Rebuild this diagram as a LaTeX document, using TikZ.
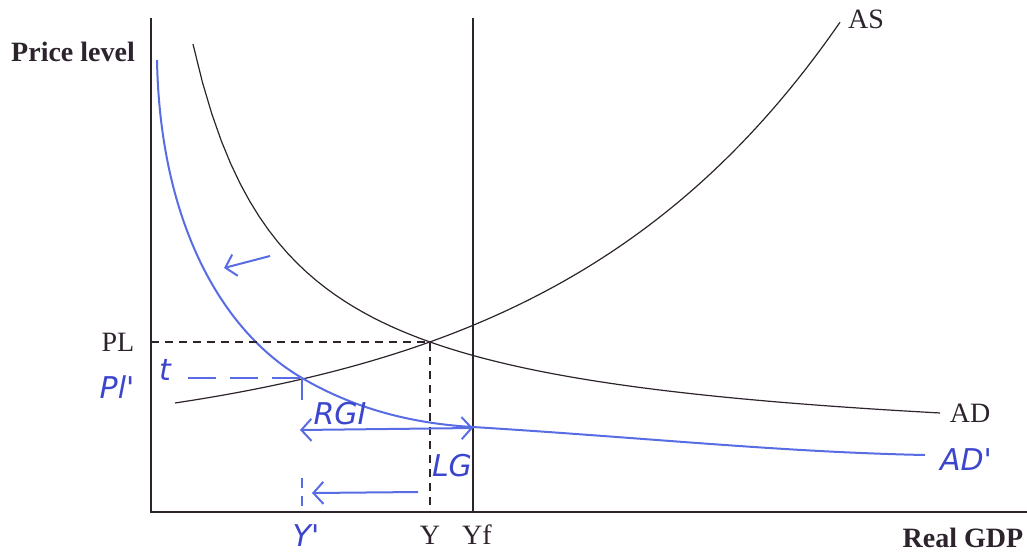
\documentclass[tikz,border=0pt]{standalone}
\usepackage{fontspec}
\setmainfont{Liberation Serif}
\newfontfamily\handfont{DejaVu Sans}
\usetikzlibrary{positioning,arrows.meta}
\definecolor{penblue}{RGB}{88,108,228}
\definecolor{inkblue}{RGB}{60,70,205}
\definecolor{axisgray}{RGB}{45,35,45}
\begin{document}
\begin{tikzpicture}[x=0.5pt, y=-0.5pt,
  every node/.style={font=\fontsize{14}{16}\selectfont, text=axisgray},
  axisline/.style={draw=axisgray, line width=0.8pt},
  curve/.style={draw=axisgray, line width=0.6pt},
  guide/.style={draw=axisgray, line width=0.6pt, dash pattern=on 4pt off 3pt},
  pen/.style={draw=penblue, line width=1pt},
  penarrow/.style={pen, arrows={-Straight Barb[length=5pt, width=11pt]}},
  hand/.style={font=\handfont\itshape\fontsize{15}{17}\selectfont, text=inkblue}]
\useasboundingbox (0,0) rectangle (1027,553);
% axes
\coordinate (O) at (151,512);
\coordinate (ytop) at (151,18);
\coordinate (xend) at (1027,512);
\coordinate (yftop) at (473,18);
\coordinate (yfbot) at (473,512);
\draw[axisline] (ytop) -- (O) -- (xend);
\draw[curve] (yftop) -- (yfbot);
% AS and AD
\draw[curve] plot[domain=175:840, samples=80] (\x, {447.2-24.38*exp(0.0034*\x)});
\draw[curve] plot[domain=193:940, samples=80] (\x, {458.9-385.8/((\x-100)/100)});
% AD' (pen)
\coordinate (E) at (430,342);
\coordinate (E2) at (302,378);
\coordinate (adtop) at (157,60);
\coordinate (adyf) at (473,427);
\coordinate (adend) at (925,455);
\draw[pen] (adtop) .. controls (160,220) and (220,330) .. (E2)
  .. controls (360,412) and (420,424) .. (adyf)
  .. controls (650,438) and (780,452) .. (adend);
% equilibrium guides
\coordinate (plpt) at (151,342);
\coordinate (ypt) at (430,512);
\draw[guide] (plpt) -- (E) -- (ypt);
% labels
\node (price) at (73,52) {\bfseries Price level};
\node (gdp) at (963,538) {\bfseries Real GDP};
\node (pl) at (118,342) {PL};
\node (y) at (430,535) {Y};
\node (yf) at (477,535) {Yf};
\node (as) at (866,19) {AS};
\node (ad) at (970,413) {AD};
% pen marks
\node[hand] (pl2) at (117,387) {Pl'};
\node[hand] (tick) at (165,370) {t};
\coordinate (dashstart) at (188,378);
\draw[pen, dash pattern=on 14pt off 7pt] (dashstart) -- (E2);
\coordinate (e2low) at (302,400);
\coordinate (y2top) at (302,478);
\coordinate (y2bot) at (302,512);
\draw[pen] (E2) -- (e2low);
\draw[pen, dash pattern=on 5pt off 4pt] (y2top) -- (y2bot);
\coordinate (rgl) at (300,430);
\coordinate (rgr) at (473,428);
\draw[penarrow, arrows={Straight Barb[length=5pt, width=11pt]-Straight Barb[length=5pt, width=11pt]}] (rgl) -- (rgr);
\node[hand] (rgi) at (340,414) {RGI};
\coordinate (lgr) at (418,492);
\coordinate (lgl) at (312,493);
\draw[penarrow] (lgr) -- (lgl);
\node[hand] (lg) at (452,466) {LG};
\coordinate (arrr) at (270,256);
\coordinate (arrl) at (224,268);
\draw[penarrow] (arrr) -- (arrl);
\node[hand] (adp) at (966,460) {AD'};
\node[hand] (y2) at (306,536) {Y'};
\end{tikzpicture}
\end{document}
